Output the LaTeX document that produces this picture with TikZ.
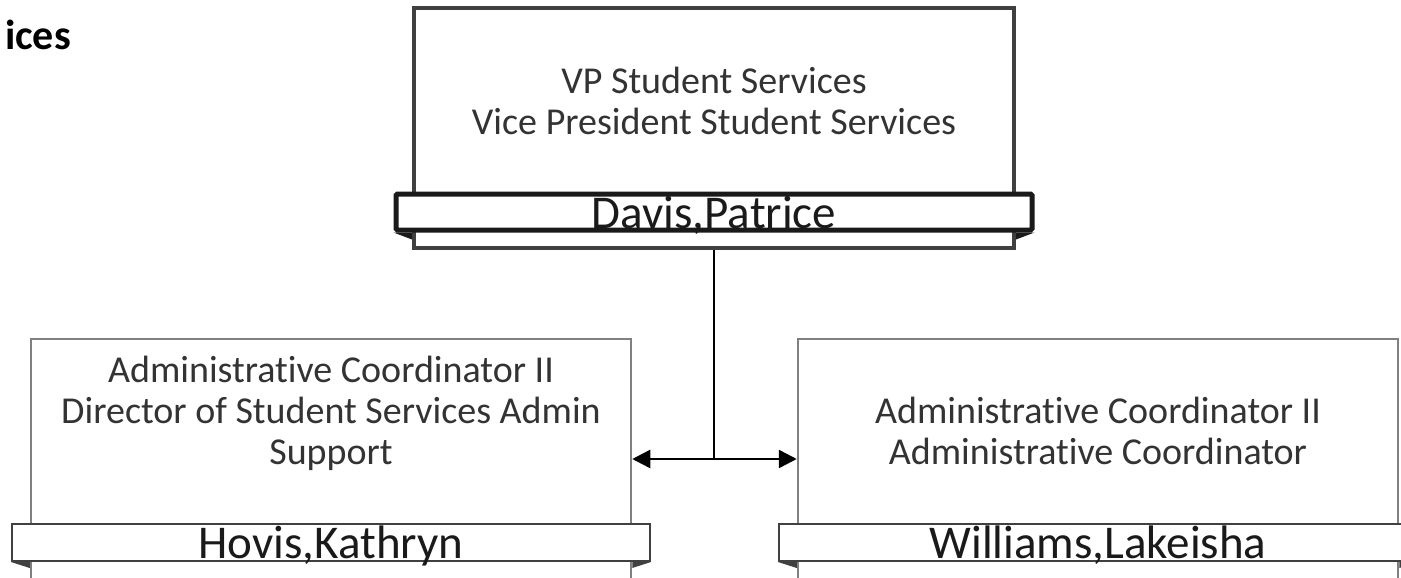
\documentclass[tikz,border=0pt]{standalone}
\usepackage{fontspec}
\setmainfont{Carlito}[RawFeature={-liga;-clig;-calt;-dlig;-rlig}]
\usetikzlibrary{arrows.meta}
\definecolor{boxgray}{HTML}{404040}
\definecolor{bardark}{HTML}{1A1A1A}
\definecolor{subgray}{HTML}{808080}
\definecolor{txtgray}{HTML}{333333}
\begin{document}
\begin{tikzpicture}[x=1pt,y=-1pt,
  topbox/.style={draw=boxgray,line width=4pt,fill=white,minimum width=600pt,minimum height=240pt,inner sep=0pt},
  topbar/.style={draw=bardark,line width=5pt,fill=white,rounded corners=1.5pt,minimum width=636pt,minimum height=36pt,inner sep=0pt},
  subbox/.style={draw=subgray,line width=2.5pt,fill=white,minimum width=600pt,minimum height=240pt,inner sep=0pt},
  subbar/.style={draw=boxgray,line width=2pt,fill=white,minimum width=638pt,minimum height=37pt,inner sep=0pt},
  titletext/.style={text=txtgray,align=center,inner sep=0pt,font=\fontsize{38}{41}\selectfont},
  nametext/.style={text=bardark,inner sep=0pt,anchor=base,font=\fontsize{47}{50}\selectfont},
  conn/.style={draw=black,line width=2.5pt},
  tip/.tip={Triangle[length=18pt,width=18pt]}
]
\useasboundingbox (0,0) rectangle (1401,578);

% heading (cut off at the left edge)
\node[anchor=base east,inner sep=0pt,font=\bfseries\fontsize{42}{50}\selectfont] (heading) at (71,50) {ices};

% top box
\node[topbox] (vp) at (714,128) {};
\node[topbar] (vpbar) at (714,212) {};
\fill[bardark] (vpbar.south west) -- (vp.west |- vpbar.south) -- ++(0,7) -- cycle;
\fill[bardark] (vpbar.south east) -- (vp.east |- vpbar.south) -- ++(0,7) -- cycle;
\node[titletext] (vptitle) at (714,101) {VP Student Services\\Vice President Student Services};
\node[nametext] (vpname) at (714,228) {Davis,Patrice};

% left box
\node[subbox] (hov) at (331,459) {};
\node[subbar] (hovbar) at (331,542.5) {};
\fill[boxgray] (hovbar.south west) -- (hov.west |- hovbar.south) -- ++(0,6) -- cycle;
\fill[boxgray] (hovbar.south east) -- (hov.east |- hovbar.south) -- ++(0,6) -- cycle;
\node[titletext] (hovtitle) at (331,413) {Administrative Coordinator II\\Director of Student Services Admin\\Support};
\node[nametext] (hovname) at (331,558) {Hovis,Kathryn};

% right box
\node[subbox] (wil) at (1098,459) {};
\node[subbar] (wilbar) at (1098,542.5) {};
\fill[boxgray] (wilbar.south west) -- (wil.west |- wilbar.south) -- ++(0,6) -- cycle;
\fill[boxgray] (wilbar.south east) -- (wil.east |- wilbar.south) -- ++(0,6) -- cycle;
\node[titletext] (wiltitle) at (1098,431) {Administrative Coordinator II\\Administrative Coordinator};
\node[nametext] (wilname) at (1098,558) {Williams,Lakeisha};

% connectors
\coordinate (junction) at (vp.south |- hov.east);
\draw[conn] (vp.south) -- (junction);
\draw[conn,tip-tip] (hov.east) -- (wil.west);
\end{tikzpicture}
\end{document}
